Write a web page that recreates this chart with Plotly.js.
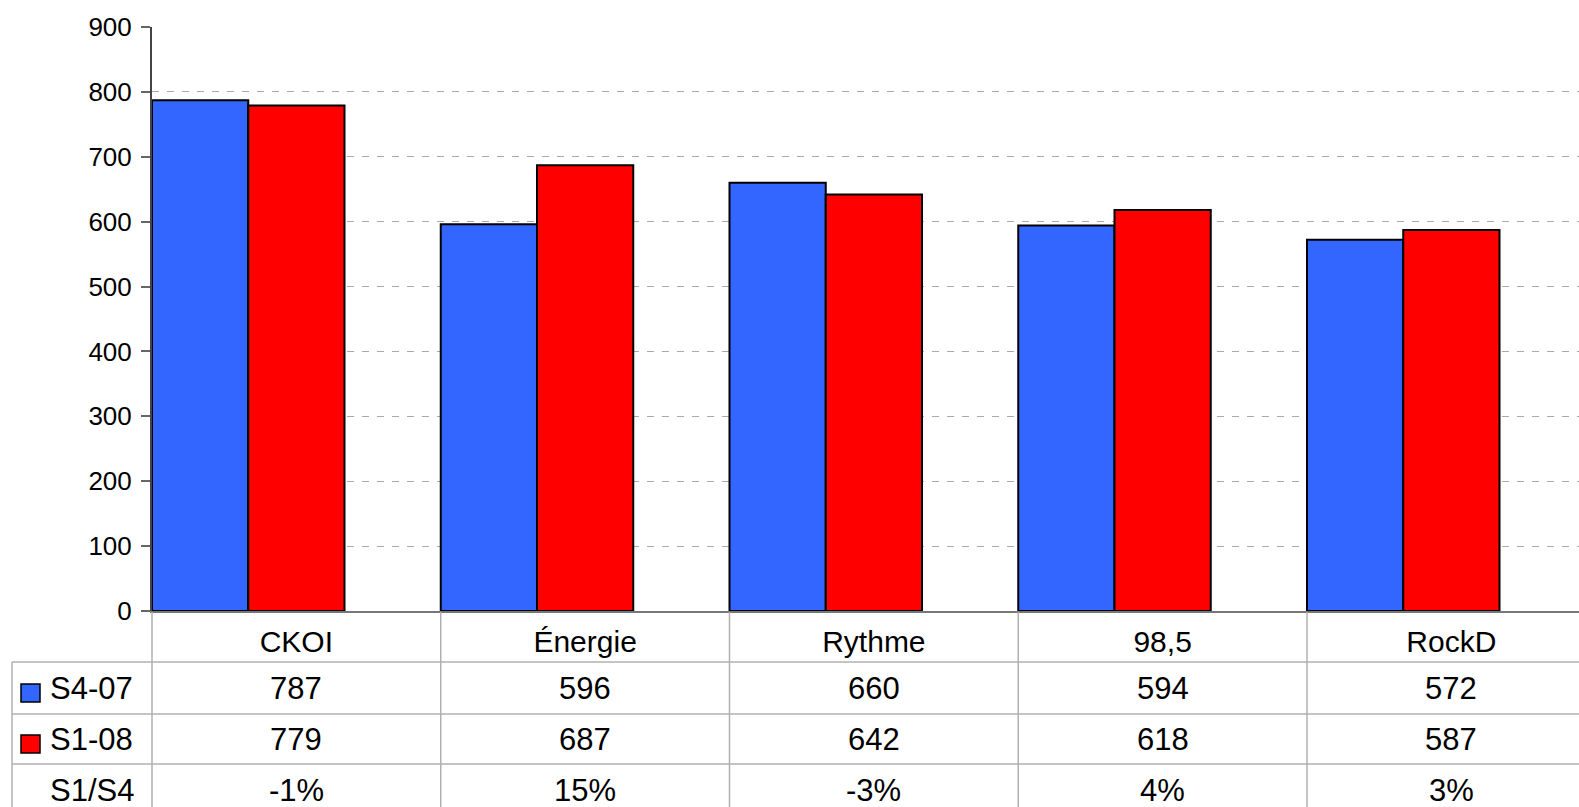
<!DOCTYPE html>
<html><head><meta charset="utf-8">
<script src="https://cdn.plot.ly/plotly-3.0.1.min.js"></script>
<style>html,body{margin:0;padding:0;background:#fff}#chart{width:1579px;height:807px}</style>
</head><body><div id="chart"></div>
<script>
// ---- data ----
const categories = ['CKOI', 'Énergie', 'Rythme', '98,5', 'RockD'];
const seriesNames = ['S4-07', 'S1-08'];
const s4_07 = [787, 596, 660, 594, 572];
const s1_08 = [779, 687, 642, 618, 587];
const ratioName = 'S1/S4';
const ratioLabels = ['-1%', '15%', '-3%', '4%', '3%'];
const yTickVals = [0, 100, 200, 300, 400, 500, 600, 700, 800, 900];

// ---- styles / layout geometry ----
const colors = ['#3366FF', '#FF0000'];
const W = 1579, H = 807, L = 152, R = 0, T = 27, B = 196;
const plotW = W - L - R, plotH = H - T - B;
const xr = [-0.5, 4.442];
const FONT = 'Liberation Sans, Arial, Helvetica, sans-serif';
const px2x = p => (p - L) / plotW;
const py2y = p => (H - B - p) / plotH;
const cat2paper = v => (v - xr[0]) / (xr[1] - xr[0]);

const xIdx = categories.map((c, i) => i);
const bw = 1 / 3;
const traces = [s4_07, s1_08].map((vals, i) => ({
  type: 'bar', x: categories, y: vals, name: seriesNames[i],
  width: bw, offset: -0.5 + i * bw,
  marker: {color: colors[i], line: {color: '#000', width: 2}},
  hoverinfo: 'x+y+name'
}));

// table geometry (pixels)
const rowLines = [662, 714, 764];
const rowCenters = [688, 739, 790];
const lineColor = '#b0b0b0';
const shapes = [];
rowLines.forEach(yp => shapes.push({type: 'line', xref: 'paper', yref: 'paper',
  x0: px2x(12), x1: 1, y0: py2y(yp), y1: py2y(yp), line: {color: lineColor, width: 1.5}}));
shapes.push({type: 'line', xref: 'paper', yref: 'paper', x0: px2x(12), x1: px2x(12),
  y0: py2y(662), y1: py2y(H + 5), line: {color: lineColor, width: 1.5}});
for (let k = 0; k <= categories.length; k++) {
  const xp = cat2paper(k - 0.5);
  if (xp > 1.0001) continue;
  shapes.push({type: 'line', xref: 'paper', yref: 'paper', x0: xp, x1: xp,
    y0: py2y(612), y1: py2y(H + 5), line: {color: lineColor, width: 1.5}});
}
// legend keys
[0, 1].forEach(i => shapes.push({type: 'rect', xref: 'paper', yref: 'paper',
  x0: px2x(21), x1: px2x(40), y0: py2y(rowCenters[i] - 4), y1: py2y(rowCenters[i] + 14),
  fillcolor: colors[i], line: {color: '#000', width: 1.5}}));

const annotations = [];
const rows = [s4_07.map(String), s1_08.map(String), ratioLabels];
const rowNames = [seriesNames[0], seriesNames[1], ratioName];
rows.forEach((r, ri) => {
  r.forEach((txt, ci) => annotations.push({xref: 'x', yref: 'paper', x: xIdx[ci], y: py2y(rowCenters[ri]),
    text: txt, showarrow: false, xanchor: 'center', yanchor: 'middle',
    font: {family: FONT, size: 31, color: '#000'}}));
  annotations.push({xref: 'paper', yref: 'paper', x: px2x(48), y: py2y(rowCenters[ri]),
    text: rowNames[ri], showarrow: false, xanchor: 'left', yanchor: 'middle',
    font: {family: FONT, size: 31, color: '#000'}});
});

const layout = {
  width: W, height: H,
  margin: {l: L, r: R, t: T, b: B, pad: 0},
  paper_bgcolor: '#fff', plot_bgcolor: '#fff',
  showlegend: false, barmode: 'overlay',
  font: {family: FONT, color: '#000'},
  xaxis: {type: 'category', range: xr, showline: true, linecolor: '#777', linewidth: 2,
    ticks: '', showgrid: false, zeroline: false, tickfont: {size: 30, family: FONT, color: '#000'},
    ticklabelstandoff: 3, fixedrange: true},
  yaxis: {range: [0, 900], tickvals: yTickVals, showline: true, linecolor: '#444', linewidth: 2,
    ticks: 'outside', ticklen: 9, tickcolor: '#666', tickwidth: 2,
    showgrid: true, gridcolor: '#aaaaaa', gridwidth: 1.2, griddash: '7px,8px',
    zeroline: false, tickfont: {size: 26, family: FONT, color: '#000'}, ticklabelstandoff: 4,
    fixedrange: true},
  shapes: shapes, annotations: annotations
};
Plotly.newPlot('chart', traces, layout, {displayModeBar: false, staticPlot: true});
</script></body></html>
